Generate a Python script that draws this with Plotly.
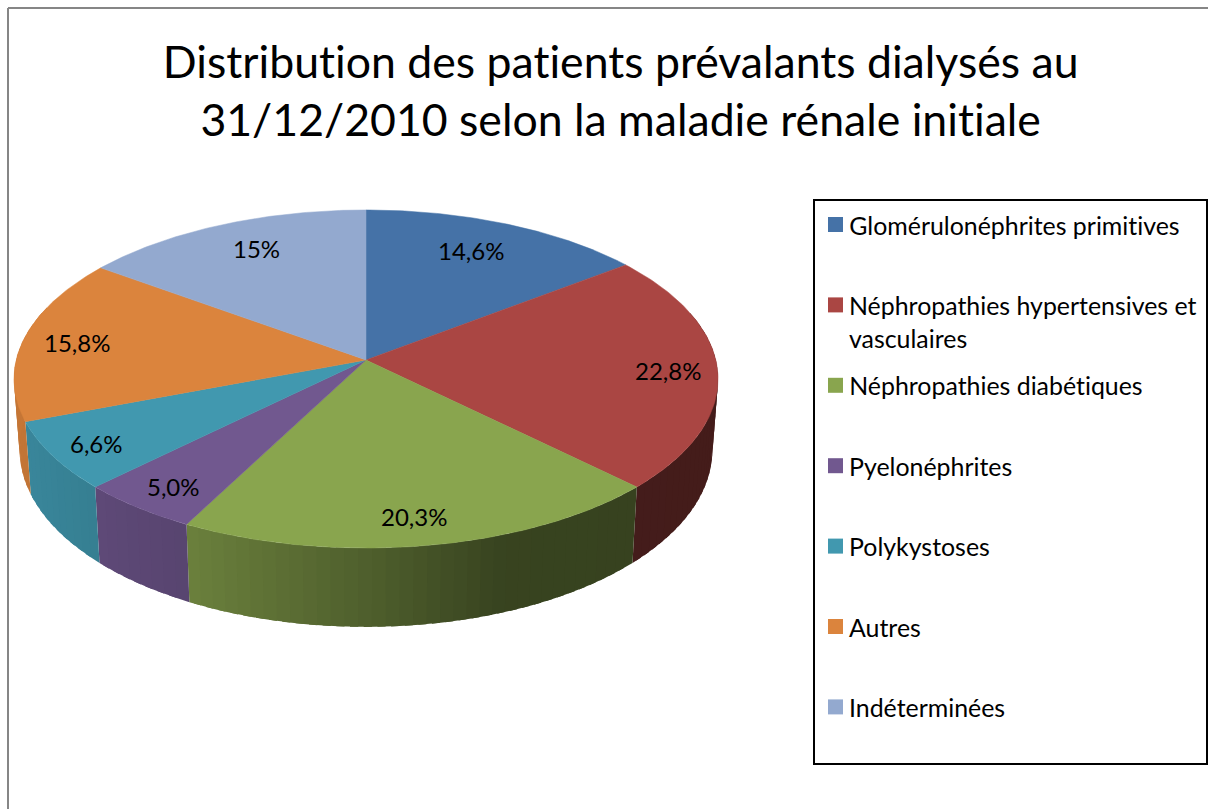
import numpy as np
import plotly.graph_objects as go

# data
categories = ["Glomérulonéphrites primitives", "Néphropathies hypertensives et<br>vasculaires",
              "Néphropathies diabétiques", "Pyelonéphrites", "Polykystoses", "Autres", "Indéterminées"]
values = [14.6, 22.8, 20.3, 5.0, 6.6, 15.8, 15.0]
value_labels = ["14,6%", "22,8%", "20,3%", "5,0%", "6,6%", "15,8%", "15%"]
colors = ["#4572a7", "#aa4643", "#89a54e", "#71588f", "#4198af", "#db843d", "#93a9cf"]
# where each label sits: how far out, and how far along its slice
label_radius = [0.77, 0.86, 0.865, 0.87, 0.875, 0.84, 0.787]
label_along = [0.475, 0.515, 0.51, 0.455, 0.465, 0.48, 0.53]

TITLE_LINES = ["Distribution des patients prévalants dialysés au",
               "31/12/2010 selon la maladie rénale initiale"]
FONT = "Lato, Carlito, Calibri, sans-serif"

# perspective of the tilted disc, in pixels
CX, CY = 366, 360
RX, RY = 349.8, 166.9
PERSP = 0.1124
DEPTH = 70
BOTTOM_SCALE = 0.984


def project(theta, r=1.0, bottom=False):
    """Screen position of a point on the disc, theta clockwise from the top."""
    dx = r * np.sin(theta)
    dy = r * np.cos(theta)
    w = 1 + PERSP * dy
    sx, sy = RX * dx / w, RY * dy / w
    if bottom:
        return CX + sx * BOTTOM_SCALE, CY - sy + DEPTH / w
    return CX + sx, CY - sy


def shade(hex_color, dx):
    # the side wall gets darker from left to right
    f = np.interp(dx, [-1, -0.46, 0, 0.35, 1], [0.9, 0.78, 0.58, 0.41, 0.4])
    rgb = [int(hex_color[i:i + 2], 16) for i in (1, 3, 5)]
    return "rgb(%d,%d,%d)" % tuple(c * f for c in rgb)


edges = np.cumsum([0] + values) / sum(values) * 2 * np.pi
fig = go.Figure()

# side wall, in overlapping strips so the shading can change without seams
for i, color in enumerate(colors):
    n = max(int(np.degrees(edges[i + 1] - edges[i]) / 2), 1)
    steps = np.linspace(edges[i], edges[i + 1], n + 1)
    for a, b in zip(steps[:-1], steps[1:]):
        if np.cos((a + b) / 2) > 0.3:
            continue
        # each strip runs under the next one, the last stops at the slice edge
        t = np.linspace(a, min(b + (b - a) * 0.6, edges[i + 1]), 6)
        tx, ty = project(t)
        bx, by = project(t[::-1], bottom=True)
        fig.add_trace(go.Scatter(x=np.r_[tx, bx, tx[0]], y=np.r_[ty, by, ty[0]], mode="lines",
                                 fill="toself", fillcolor=shade(color, np.sin((a + b) / 2)),
                                 line=dict(width=0), hoverinfo="skip", showlegend=False))

# top faces
for i, color in enumerate(colors):
    t = np.linspace(edges[i], edges[i + 1], 90)
    x, y = project(t)
    fig.add_trace(go.Scatter(x=np.r_[CX, x, CX], y=np.r_[CY, y, CY], mode="lines", fill="toself",
                             fillcolor=color, line=dict(color=color, width=0.5),
                             name=categories[i], hoverinfo="name", showlegend=False))

# value labels
annotations = []
for i, lab in enumerate(value_labels):
    mid = edges[i] + (edges[i + 1] - edges[i]) * label_along[i]
    lx, ly = project(mid, label_radius[i])
    annotations.append(dict(x=lx, y=ly - 1.5, text=lab, showarrow=False, xanchor="center", yanchor="middle",
                            font=dict(family=FONT, size=24, color="black")))

# title
for line, y in zip(TITLE_LINES, [60, 118]):
    annotations.append(dict(x=620, y=y, text=line, showarrow=False, xanchor="center", yanchor="middle",
                            font=dict(family=FONT, size=44.6, color="black")))

# legend
legend_y = [224.5 + 80.4 * i for i in range(len(categories))]
fig.add_trace(go.Scatter(x=[835.5] * len(colors), y=legend_y, mode="markers",
                         marker=dict(symbol="square", size=15, color=colors), hoverinfo="skip", showlegend=False))
for name, y in zip(categories, legend_y):
    lines = name.split("<br>")
    for j, part in enumerate(lines):
        annotations.append(dict(x=847, y=y + j * 33, text=part, showarrow=False, xanchor="left", yanchor="middle",
                                font=dict(family=FONT, size=24.9, color="black")))

shapes = [
    dict(type="line", x0=8, x1=8, y0=8, y1=809, line=dict(color="#868686", width=2)),
    dict(type="line", x0=8, x1=1208, y0=8, y1=8, line=dict(color="#868686", width=2)),
    dict(type="rect", x0=814, x1=1207, y0=200, y1=764, line=dict(color="black", width=2)),
]

fig.update_layout(
    width=1208, height=809,
    margin=dict(l=0, r=0, t=0, b=0),
    paper_bgcolor="white", plot_bgcolor="white",
    xaxis=dict(range=[0, 1208], visible=False, fixedrange=True),
    yaxis=dict(range=[809, 0], visible=False, fixedrange=True),
    annotations=annotations, shapes=shapes,
)

# plotly writes font-variant on each text, so the ligature switch needs !important
page_css = ("var s=document.createElement('style');"
            "s.textContent='body{margin:0;overflow:hidden}"
            "svg text{font-variant-ligatures:none!important}';"
            "document.head.appendChild(s);")
fig.write_html("out.html", config=dict(displayModeBar=False), post_script=page_css)
